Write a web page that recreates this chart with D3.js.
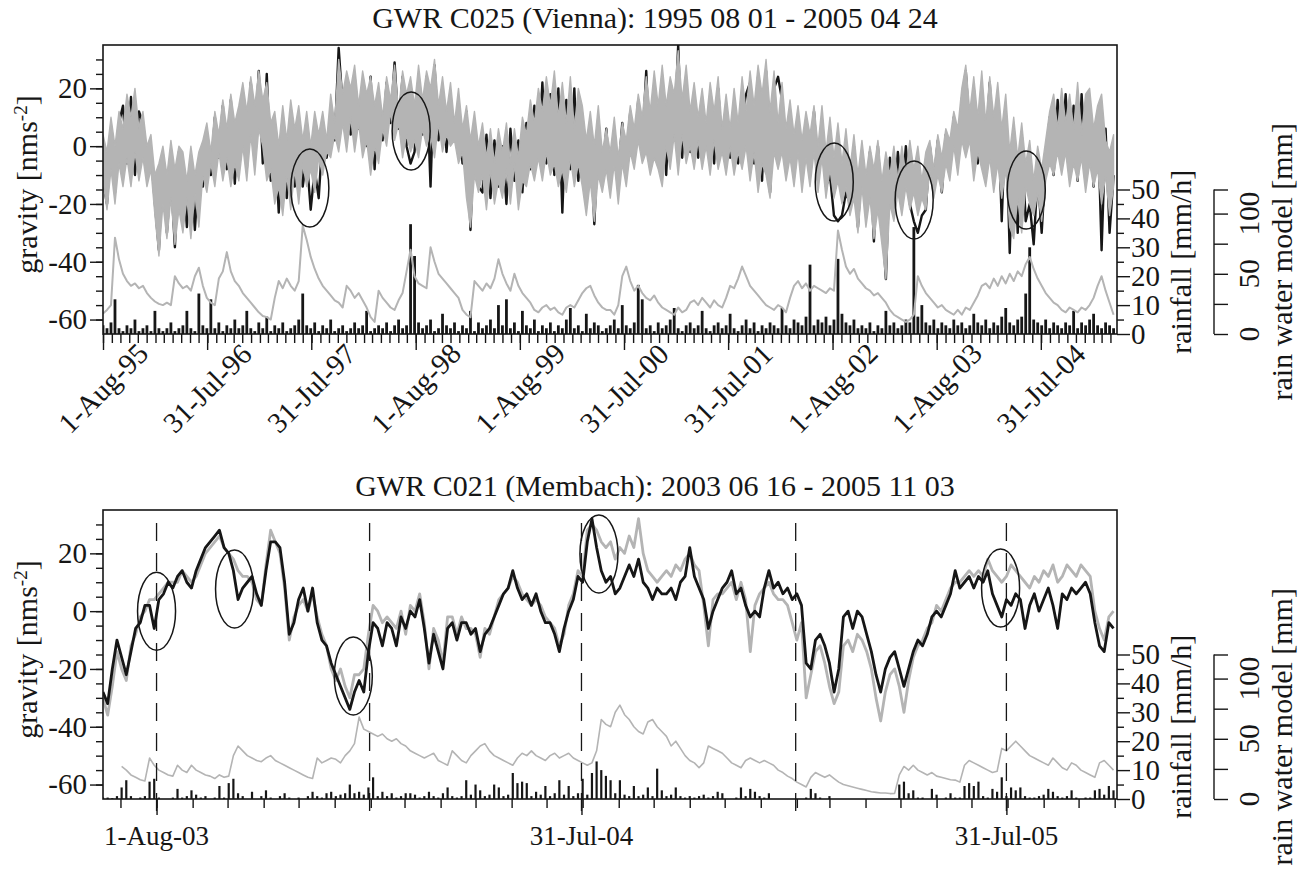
<!DOCTYPE html>
<html>
<head>
<meta charset="utf-8">
<script src="https://cdn.jsdelivr.net/npm/d3@7"></script>
<style>
  body { margin: 0; background: #fff; }
  svg text { font-family: "Liberation Serif", "Times New Roman", serif; fill: #161616; }
</style>
</head>
<body>
<svg id="chart" width="1309" height="869"></svg>
<script>
// ---------- GWR C025 (Vienna), one bin every 14 days ----------
const viennaTitle = "GWR C025 (Vienna): 1995 08 01 - 2005 04 24";
const viennaStart = "1995-08-01", viennaEnd = "2005-04-24", viennaStep = 14;

// modelled gravity [nms-2] (grey): upper and lower edge of each 14-day bin
const viennaModelHigh = [
  4, -2, 10, 0, 12, 6, 18, 10, 20, 6, 12, 0, 4, -10, -6, 0, -10, 2, -8, 0,
  -2, -12, 0, -10, -2, 2, 8, -2, 12, 4, 16, 6, 18, 8, 14, 22, 12, 24, 14, 26,
  16, 22, 8, 12, 0, 14, 2, 16, 6, 14, 2, 12, 0, 12, 4, 12, 2, 18, 8, 30,
  18, 26, 20, 28, 14, 26, 18, 24, 14, 22, 10, 24, 16, 28, 12, 26, 18, 24, 14, 28,
  16, 26, 20, 30, 14, 24, 12, 22, 8, 20, 6, 14, 2, 12, 0, 8, -4, 6, -6, 6,
  -2, 8, -6, 6, -4, 10, 4, 16, 8, 20, 12, 24, 14, 26, 10, 22, 8, 24, 6, 20,
  14, 2, 12, 0, 14, -2, 6, -2, 10, -4, 8, 2, 14, 6, 18, 10, 24, 12, 26, 14,
  28, 14, 24, 18, 33, 16, 28, 12, 22, 10, 20, 8, 22, 12, 24, 6, 18, 6, 20, 8,
  24, 12, 26, 14, 28, 18, 30, 12, 26, 8, 22, 6, 16, 4, 14, 2, 12, 4, 14, 0,
  14, -2, 10, -4, 8, -6, 6, -8, 4, -10, 2, -10, 0, -8, 2, -12, -2, -10, 0, -12,
  0, -10, 2, -8, 0, -12, -2, 2, -8, 4, -4, 6, 2, 12, 6, 20, 28, 12, 24, 10,
  26, 8, 24, 10, 22, 6, 18, -2, 10, -4, 8, -6, 2, -12, 0, -8, 2, 12, 18, 6,
  20, 8, 18, 6, 22, 4, 18, 20, 6, 14, 18, 2, -2, 4
];
const viennaModelLow = [
  -12, -22, -8, -20, -6, -14, -4, -14, -2, -12, -4, -14, -8, -24, -38, -20, -32, -18, -34, -22,
  -30, -18, -32, -16, -28, -10, -16, -6, -14, -2, -12, -4, -14, -6, -12, 0, -12, 4, -10, 6,
  0, -12, -8, -20, -14, -24, -10, -22, -8, -20, -6, -14, -8, -16, -4, -10, -2, -4, 4, -2,
  8, -2, 10, -2, 8, -4, 2, -10, 0, -6, 6, 0, 12, 2, 8, -4, 4, -2, 2, -4,
  6, 0, 4, -4, 8, -2, 4, 0, 2, -6, -2, -18, -28, -10, -16, -10, -22, -8, -20, -12,
  -18, -8, -20, -6, -22, -12, -14, -6, -12, -4, -12, -2, -10, -6, -14, -8, -16, -4, -14, -6,
  -14, -24, -12, -26, -10, -16, -8, -18, -6, -20, -6, -14, -2, -8, 2, -6, -2, -10, -4, -8,
  -14, 0, -8, 4, -10, 4, -6, 0, -8, 2, -8, 0, -10, 2, -8, -2, -10, 0, -10, -2,
  -8, 0, -12, -2, -16, -6, -10, -18, -2, -8, -2, -12, -4, -14, -2, -16, -4, -14, -2, -16,
  -4, -18, -8, -18, -12, -20, -14, -24, -18, -30, -14, -28, -18, -32, -22, -34, -46, -20, -26, -16,
  -24, -14, -22, -16, -24, -18, -22, -8, -18, -10, -16, -6, -12, 0, -10, 2, -4, 2, -12, -2,
  -8, -14, -4, -16, -6, -18, -8, -28, -32, -18, -30, -14, -20, -24, -16, -26, -12, -6, -10, -2,
  -10, -2, -14, -6, -12, -4, -16, -6, -14, -8, -20, -10, -24, -14
];
// observed gravity [nms-2] (black), drawn beneath the grey band
const viennaObserved = [
  -12, -20, 4, -16, 8, 14, -6, 17, -10, 12, 8, -8, -2, -20, -36, -4, -30, -10, -35, -2,
  -6, -28, -4, -29, -8, -14, 4, -10, 10, -4, 14, -8, 16, -13, 12, 18, -8, 22, 0, 26,
  -6, 25, -12, 4, -23, 6, -18, 10, -14, 8, -14, -4, -22, -8, -18, 4, -4, 12, 2, 34,
  14, 22, 4, 24, 6, 20, 0, 24, -8, 18, 2, 22, 8, 29, 6, 24, 0, -6, -2, 22,
  4, 24, -14, 28, 2, 20, -2, 16, 4, 12, -6, 12, -29, 8, -14, -16, 4, -18, 2, -14,
  0, -20, 6, -12, 2, -16, 8, -8, 14, -4, 22, -6, 18, -10, 20, -23, 16, -8, 20, -12,
  8, -20, 6, -27, 4, -12, 6, -14, 4, -10, 8, -8, 12, -4, 16, 0, 26, -6, 18, -2,
  24, -10, 20, 2, 35, -4, 22, -2, 18, -4, 14, 0, 16, -6, 20, -2, 12, -4, 14, -6,
  10, 18, 22, -6, 24, -12, 26, -16, 20, 24, 16, -4, 12, -8, 10, -10, 8, -6, 12, -10,
  6, -14, -10, -24, -26, -24, -16, -20, 0, -28, -4, -22, -2, -33, 0, -24, -46, -4, -22, -2,
  -18, 0, -20, -26, -30, -24, -22, 0, -12, 2, -16, 4, -8, 10, -4, 16, 26, 4, 20, -6,
  18, -2, 22, -8, 16, -26, 12, -37, 6, -30, 4, -26, -20, -34, -10, -30, -6, 10, -10, 16,
  -4, 18, -6, 14, -12, 18, -8, 16, -14, 12, -36, 6, -30, -10
];
// rain water model [mm] (grey, lower curve)
const viennaRainModel = [
  17, 20, 24, 80, 62, 50, 44, 40, 42, 38, 40, 34, 30, 27, 25, 24, 26, 24, 48, 42,
  38, 40, 36, 48, 55, 40, 30, 26, 24, 46, 52, 68, 52, 44, 40, 34, 30, 26, 22, 18,
  15, 14, 12, 30, 44, 38, 46, 40, 36, 44, 90, 78, 64, 54, 46, 40, 36, 32, 28, 26,
  22, 40, 36, 30, 34, 28, 22, 14, 10, 36, 30, 26, 22, 20, 28, 34, 52, 70, 48, 42,
  40, 38, 72, 60, 50, 46, 42, 38, 34, 30, 20, 16, 14, 44, 40, 36, 42, 38, 46, 62,
  50, 42, 36, 50, 40, 34, 30, 26, 20, 18, 22, 24, 20, 22, 18, 16, 22, 24, 22, 28,
  34, 38, 40, 32, 26, 22, 20, 20, 16, 24, 48, 56, 44, 36, 40, 34, 30, 28, 32, 26,
  22, 20, 18, 16, 22, 18, 20, 26, 28, 24, 30, 26, 22, 28, 24, 22, 30, 40, 38, 46,
  56, 48, 40, 36, 32, 28, 24, 22, 20, 24, 22, 18, 30, 40, 44, 38, 42, 36, 40, 38,
  36, 34, 38, 36, 86, 70, 56, 50, 54, 46, 42, 38, 36, 32, 34, 30, 26, 20, 16, 14,
  12, 10, 12, 16, 48, 40, 34, 30, 26, 22, 24, 20, 18, 16, 20, 16, 22, 20, 26, 32,
  40, 42, 38, 46, 40, 48, 42, 50, 44, 52, 48, 58, 64, 54, 46, 40, 34, 30, 26, 24,
  20, 18, 22, 20, 18, 22, 20, 24, 30, 40, 48, 36, 26, 16
];
// rainfall [mm/h] (black spikes)
const viennaRainfall = [
  3, 2, 4, 12, 2, 1, 3, 2, 5, 1, 2, 3, 1, 8, 2, 1, 2, 4, 1, 2,
  3, 8, 2, 1, 14, 3, 2, 12, 2, 4, 1, 3, 2, 5, 2, 3, 8, 2, 1, 4,
  2, 6, 1, 3, 2, 4, 1, 2, 3, 5, 14, 3, 2, 4, 1, 3, 2, 5, 1, 2,
  3, 1, 2, 4, 2, 3, 8, 1, 2, 3, 2, 4, 1, 3, 5, 2, 3, 38, 27, 4,
  2, 3, 5, 1, 2, 7, 3, 2, 4, 1, 3, 2, 8, 1, 4, 2, 3, 5, 2, 10,
  3, 12, 2, 4, 1, 8, 3, 2, 5, 1, 3, 2, 4, 1, 3, 2, 5, 9, 2, 3,
  1, 7, 2, 4, 3, 1, 2, 3, 5, 2, 10, 3, 2, 4, 17, 12, 2, 3, 1, 4,
  2, 3, 5, 9, 2, 1, 3, 4, 2, 3, 8, 2, 1, 3, 4, 2, 3, 7, 2, 1,
  3, 5, 2, 4, 1, 3, 2, 4, 3, 2, 9, 3, 2, 5, 4, 3, 6, 24, 3, 5,
  4, 6, 3, 5, 26, 7, 4, 3, 5, 2, 3, 2, 4, 1, 3, 2, 8, 3, 4, 2,
  3, 5, 4, 37, 6, 10, 4, 3, 5, 2, 4, 3, 2, 5, 3, 4, 2, 3, 7, 4,
  3, 5, 2, 4, 3, 6, 9, 4, 3, 5, 6, 14, 30, 5, 4, 3, 5, 2, 4, 3,
  2, 4, 3, 8, 2, 4, 3, 5, 7, 3, 2, 4, 3, 2
];
const viennaTicks = ["1-Aug-95", "31-Jul-96", "31-Jul-97", "1-Aug-98", "1-Aug-99",
  "31-Jul-00", "31-Jul-01", "1-Aug-02", "1-Aug-03", "31-Jul-04"];
const viennaCircleDates = ["1997-07-26", "1998-07-16", "2002-08-07", "2003-05-14", "2004-06-10"];
const viennaCircleGravity = [-14.5, 5.2, -12.4, -18.6, -15.2];

// ---------- GWR C021 (Membach), one value every 4 days ----------
const membachTitle = "GWR C021 (Membach): 2003 06 16 - 2005 11 03";
const membachStart = "2003-06-16", membachEnd = "2005-11-03", membachStep = 4;

const membachModel = [
  -30, -36, -26, -14, -20, -24, -12, -8, -2, 0, 4, 4, 6, 8, 10, 10, 10, 14, 12, 10,
  12, 16, 20, 22, 24, 26, 22, 20, 18, 14, 12, 12, 10, 4, 2, 16, 28, 24, 20, 8,
  -10, -2, 2, 4, 0, 6, -2, -8, -12, -20, -24, -20, -26, -30, -22, -22, -20, -8, 2, 0,
  -4, -2, -4, -6, 0, -8, 2, 0, 6, -4, -20, -6, -10, -18, -2, -2, -8, -2, -6, -6,
  -8, -16, -6, -8, -2, 4, 6, 8, 12, 10, 6, 4, 2, 4, 2, -2, -4, -6, -12, -8,
  2, 6, 14, 12, 28, 30, 28, 24, 22, 24, 18, 22, 20, 26, 22, 32, 20, 14, 12, 10,
  12, 14, 12, 16, 14, 18, 20, 16, 14, 2, -12, 4, 6, 6, 8, 10, 4, 10, 4, -14,
  2, 6, 8, 10, 6, 4, 4, 2, -4, -10, -4, -30, -22, -14, -12, -18, -26, -32, -28, -12,
  -10, -14, -8, -10, -14, -20, -30, -38, -28, -22, -20, -26, -35, -24, -16, -12, -10, -6, -4, 2,
  0, 4, 8, 10, 10, 12, 14, 12, 14, 12, 18, 14, 12, 10, 12, 16, 14, 12, 10, 8,
  12, 10, 14, 12, 16, 10, 12, 16, 14, 12, 16, 14, 12, 0, -6, -10, -2, 0
];
const membachObserved = [
  -28, -32, -20, -10, -16, -22, -14, -6, -4, 2, 2, -6, 4, 6, 10, 8, 12, 14, 10, 8,
  14, 18, 22, 24, 26, 28, 22, 20, 14, 4, 8, 10, 12, 6, 2, 14, 24, 24, 22, 10,
  -8, -4, 4, 8, 0, 8, -4, -10, -12, -18, -22, -26, -30, -34, -28, -24, -28, -14, -4, -6,
  -12, -4, -6, -12, -2, -6, 0, -2, 4, -6, -18, -8, -14, -20, -6, -4, -10, -4, -4, -8,
  -6, -14, -8, -6, -2, 2, 6, 8, 14, 8, 4, 6, 2, 6, 0, -4, -4, -8, -14, -6,
  0, 4, 12, 10, 24, 32, 22, 14, 10, 12, 6, 8, 12, 16, 12, 18, 10, 8, 4, 8,
  6, 6, 8, 4, 10, 12, 22, 12, 8, 4, -6, 0, 4, 8, 10, 14, 6, 8, 2, -2,
  0, -2, 8, 14, 8, 10, 6, 8, 4, 6, 2, -18, -20, -10, -8, -12, -18, -28, -20, -2,
  0, -6, 0, -2, -8, -14, -22, -28, -20, -16, -14, -20, -26, -20, -14, -10, -12, -8, -2, 0,
  -2, 2, 6, 14, 8, 10, 12, 8, 12, 10, 14, 6, 2, -2, 4, 2, 6, 4, -6, 2,
  6, 0, 4, 8, 2, -6, 6, 4, 8, 6, 8, 10, 6, -4, -12, -14, -4, -6
];
const membachRainModel = [
  null, null, null, null, 27, 24, 20, 18, 16, 15, 34, 28, 24, 22, 20, 19, 28, 24, 22, 28,
  24, 22, 20, 19, 17, 20, 18, 19, 36, 44, 40, 36, 34, 32, 31, 34, 36, 32, 30, 28,
  26, 24, 22, 20, 18, 17, 34, 30, 32, 34, 33, 30, 36, 40, 46, 68, 58, 56, 54, 52,
  54, 50, 48, 50, 46, 44, 40, 38, 36, 34, 36, 38, 32, 30, 28, 40, 36, 32, 30, 36,
  40, 44, 46, 40, 36, 34, 32, 30, 28, 34, 38, 36, 40, 36, 34, 32, 36, 38, 34, 36,
  38, 34, 32, 30, 28, 30, 40, 66, 62, 60, 72, 78, 70, 66, 60, 56, 54, 64, 66, 60,
  56, 52, 44, 48, 42, 36, 32, 30, 26, 30, 44, 42, 40, 38, 34, 30, 28, 26, 32, 34,
  32, 30, 32, 30, 28, 24, 22, 19, 17, 14, 12, 10, 18, 22, 20, 18, 20, 17, 14, 12,
  11, 10, 9, 8, 7, 6, 5.5, 5, 5, 4.5, 4.7, 20, 27, 24, 28, 24, 22, 20, 22, 19,
  18, 17, 16, 15.7, 14, 28, 32, 30, 28, 26, 24, 22, 23, 42, 40, 44, 48, 44, 40, 36,
  34, 32, 30, 28, 34, 30, 26, 24, 30, 28, 24, 22, 20, 18, 30, 32, 28, 24
];
const membachRainfall = [
  0.5, 0.5, 0.3, 1, 4, 6.5, 1, 0, 0.5, 1, 6, 7, 0.5, 0, 0, 0.5, 3.5, 0.5, 1, 3,
  1.5, 0.5, 1, 0, 0.5, 4.5, 0.5, 5.5, 7, 2, 1, 0, 2.5, 0, 1, 3, 0.5, 0, 1, 2,
  0.5, 0, 0.5, 0, 1, 2.5, 1, 0.5, 2, 2.5, 1, 1.5, 2, 5, 2, 2.5, 1.5, 4, 7.5, 1,
  2.5, 1, 2, 0.5, 1, 2, 2, 1.5, 0.5, 1, 2.5, 1, 0.5, 2, 4, 1, 0.5, 1, 6.5, 1.5,
  5, 3, 1, 1.5, 5, 4, 1, 1.5, 9, 5.5, 6, 5.5, 1, 2.5, 1.5, 4.5, 1, 2, 6.5, 1.5,
  4.5, 1, 2, 7, 1.5, 9, 13, 10, 8, 6.5, 2, 6.5, 1.5, 1, 4.5, 1, 1.5, 4, 1, 10.5,
  3, 1, 1.5, 4, 1, 0.5, 1, 0.5, 1, 1.5, 0.5, 1, 2.5, 2, 0, 0, 0.5, 4, 1, 3.5,
  2.5, 1, 0.5, 2, 0, 0, 0, 0, 0, 0, 0, 0.5, 3.5, 2, 0.5, 0, 1, 0, 0, 0,
  0, 0, 0, 0, 0, 0, 0, 0, 0, 0, 0, 5, 6, 2, 3, 0.5, 0.5, 0, 3.5, 1.5,
  0, 0.5, 2, 0.5, 0.5, 4.5, 5.5, 4.5, 6, 1, 0.5, 3.5, 2.5, 7.5, 1, 4, 3, 4, 1, 0.5,
  0.5, 1, 1.5, 3.5, 2.5, 1, 0.5, 1, 3, 0.5, 0, 0.5, 0.5, 3, 3.5, 1.5, 4.5, 3
];
const membachTicks = ["1-Aug-03", "31-Jul-04", "31-Jul-05"];
const membachDashDates = ["2003-08-01", "2004-01-31", "2004-07-31", "2005-01-31", "2005-07-31"];
const membachCircleDates = ["2003-08-01", "2003-10-07", "2004-01-17", "2004-08-15", "2005-07-26"];
const membachCircleGravity = [0, 7.7, -22.4, 19.8, 8];

// ---------- shared axes ----------
const gravityLabels = [-60, -40, -20, 0, 20];
const gravityMinor = d3.range(-60, 31, 5);
const rainfallLabels = [0, 10, 20, 30, 40, 50];
const rainfallMinor = [5, 15, 25, 35, 45];
const rainModelTicks = [0, 25, 50, 75, 100, 120];
const rainModelLabels = [0, 50, 100];

const GREY = "#b4b4b4", INK = "#161616";
const X0 = 103, X1 = 1117;
const TICK_FONT = 29, TITLE_FONT = 30;
const svg = d3.select("#chart");
const iso = d3.timeParse("%Y-%m-%d");
const tickParse = d3.timeParse("%d-%b-%y");

function drawPanel(p) {
  const t0 = iso(p.start), t1 = iso(p.end);
  const x = d3.scaleTime().domain([t0, t1]).range([X0, X1]);
  const yG = d3.scaleLinear().domain([-65, 35]).range([p.bottom, p.top]);
  const yR = d3.scaleLinear().domain([0, 100]).range([p.bottom, p.top]);
  const yW = d3.scaleLinear().domain([0, 240]).range([p.bottom, p.top]);
  const when = i => d3.timeDay.offset(t0, i * p.step);

  const g = svg.append("g");
  const clipId = "clip" + p.id;
  g.append("clipPath").attr("id", clipId).append("rect")
    .attr("x", X0).attr("y", p.top).attr("width", X1 - X0).attr("height", p.bottom - p.top);
  const plot = g.append("g").attr("clip-path", `url(#${clipId})`);

  // rainfall spikes
  plot.append("g").selectAll("line").data(p.rainfall).join("line")
    .attr("x1", (d, i) => x(when(i))).attr("x2", (d, i) => x(when(i)))
    .attr("y1", yR(0)).attr("y2", d => yR(d))
    .attr("stroke", INK).attr("stroke-width", p.spikeWidth);

  // rain water model
  plot.append("path").datum(p.rainModel)
    .attr("fill", "none").attr("stroke", GREY).attr("stroke-width", p.rainWidth)
    .attr("stroke-linejoin", "round")
    .attr("d", d3.line().defined(d => d != null).x((d, i) => x(when(i))).y(d => yW(d)));

  const gLine = d3.line().x((d, i) => x(when(i))).y(d => yG(d));
  const obs = plot.append("path").datum(p.observed)
    .attr("fill", "none").attr("stroke", INK).attr("stroke-width", p.lineWidth)
    .attr("stroke-linejoin", "round").attr("d", gLine);

  if (p.modelHigh) {
    // dense hourly model shown as its band per bin
    plot.append("path").datum(p.modelHigh)
      .attr("fill", GREY).attr("stroke", GREY).attr("stroke-width", 1.4).attr("stroke-linejoin", "round")
      .attr("d", d3.area().x((d, i) => x(when(i))).y0((d, i) => yG(p.modelLow[i])).y1(d => yG(d)));
  } else {
    plot.append("path").datum(p.model)
      .attr("fill", "none").attr("stroke", GREY).attr("stroke-width", p.lineWidth)
      .attr("stroke-linejoin", "round").attr("d", gLine);
    obs.raise();
  }

  // dashed markers (Membach only)
  g.append("g").selectAll("line").data(p.dashes || []).join("line")
    .attr("x1", d => x(iso(d))).attr("x2", d => x(iso(d)))
    .attr("y1", p.top + 13).attr("y2", p.bottom + 16)
    .attr("stroke", INK).attr("stroke-width", 1.3).attr("stroke-dasharray", "18,12");

  // circled features
  g.append("g").selectAll("ellipse").data(p.circleDates).join("ellipse")
    .attr("cx", d => x(iso(d))).attr("cy", (d, i) => yG(p.circleGravity[i]))
    .attr("rx", 19).attr("ry", 39)
    .attr("fill", "none").attr("stroke", INK).attr("stroke-width", 1.5);

  // frame
  g.append("rect").attr("x", X0).attr("y", p.top).attr("width", X1 - X0).attr("height", p.bottom - p.top)
    .attr("fill", "none").attr("stroke", INK).attr("stroke-width", 1.6);

  const style = sel => sel.attr("font-size", TICK_FONT).call(s => s.select(".domain").remove())
    .call(s => s.selectAll("line").attr("stroke", INK).attr("stroke-width", 1.4));

  // gravity axis
  g.append("g").attr("transform", `translate(${X0},0)`)
    .call(d3.axisLeft(yG).tickValues(gravityMinor).tickSize(7).tickFormat("")).call(style);
  g.append("g").attr("transform", `translate(${X0},0)`)
    .call(d3.axisLeft(yG).tickValues(gravityLabels).tickSize(13).tickPadding(3).tickFormat(d => String(d)))
    .call(style);

  // rainfall axis
  g.append("g").attr("transform", `translate(${X1},0)`)
    .call(d3.axisRight(yR).tickValues(rainfallMinor).tickSize(7).tickFormat("")).call(style);
  g.append("g").attr("transform", `translate(${X1},0)`)
    .call(d3.axisRight(yR).tickValues(rainfallLabels).tickSize(13).tickPadding(1).tickFormat(d => String(d)))
    .call(style);

  // rain water model axis
  const wx = 1214;
  const wAxis = g.append("g").attr("transform", `translate(${wx},0)`)
    .call(d3.axisRight(yW).tickValues(rainModelTicks).tickSize(14).tickFormat("")).call(style);
  wAxis.append("line").attr("x1", 0).attr("x2", 0).attr("y1", yW(0)).attr("y2", yW(120))
    .attr("stroke", INK).attr("stroke-width", 1.4);
  g.append("g").selectAll("text").data(rainModelLabels).join("text")
    .attr("transform", d => `translate(1249,${yW(d)}) rotate(-90)`)
    .attr("text-anchor", "middle").attr("dy", "0.35em").attr("font-size", TICK_FONT)
    .text(d => d);

  // time axis
  const months = d3.timeMonth.range(d3.timeMonth.ceil(t0), t1);
  g.append("g").attr("transform", `translate(0,${p.bottom})`)
    .call(d3.axisBottom(x).tickValues(months).tickSize(9).tickFormat("")).call(style);
  const majors = p.ticks.map(tickParse);
  g.append("g").attr("transform", `translate(0,${p.bottom})`)
    .call(d3.axisBottom(x).tickValues(majors).tickSize(16).tickFormat("")).call(style);
  const labels = g.append("g").selectAll("text").data(p.ticks).join("text")
    .attr("font-size", TICK_FONT).attr("text-anchor", "middle").text(d => d);
  if (p.rotateTicks) {
    labels.attr("transform", d => `translate(${x(tickParse(d))},${p.bottom + 54}) rotate(-45)`)
      .attr("dy", "0.35em");
  } else {
    labels.attr("font-size", 27).attr("x", d => x(tickParse(d))).attr("y", p.bottom + 46);
  }

  // titles
  g.append("text").attr("x", 655).attr("y", p.top - p.titleGap).attr("text-anchor", "middle")
    .attr("font-size", TITLE_FONT).text(p.title);
  const gl = g.append("text").attr("font-size", TITLE_FONT).attr("text-anchor", "middle")
    .attr("transform", `translate(26,${(p.top + p.bottom) / 2 - 5}) rotate(-90)`).attr("dy", "0.35em");
  gl.append("tspan").text("gravity [nms");
  gl.append("tspan").attr("baseline-shift", "super").attr("font-size", 19).text("-2");
  gl.append("tspan").text("]");
  g.append("text").attr("font-size", TITLE_FONT).attr("text-anchor", "middle")
    .attr("transform", `translate(1180,${yR(25)}) rotate(-90)`).attr("dy", "0.35em")
    .text("rainfall [mm/h]");
  g.append("text").attr("font-size", TITLE_FONT).attr("text-anchor", "middle")
    .attr("transform", `translate(1281,${yR(25)}) rotate(-90)`).attr("dy", "0.35em")
    .text("rain water model [mm]");
}

drawPanel({
  id: "v", top: 45, bottom: 334, title: viennaTitle, titleGap: 17,
  start: viennaStart, end: viennaEnd, step: viennaStep,
  modelHigh: viennaModelHigh, modelLow: viennaModelLow, observed: viennaObserved,
  rainModel: viennaRainModel, rainfall: viennaRainfall,
  ticks: viennaTicks, rotateTicks: true,
  circleDates: viennaCircleDates, circleGravity: viennaCircleGravity,
  spikeWidth: 2.8, rainWidth: 2, lineWidth: 2.4
});
drawPanel({
  id: "m", top: 510, bottom: 799, title: membachTitle, titleGap: 14,
  start: membachStart, end: membachEnd, step: membachStep,
  model: membachModel, observed: membachObserved, rainModel: membachRainModel, rainfall: membachRainfall,
  ticks: membachTicks, rotateTicks: false, dashes: membachDashDates,
  circleDates: membachCircleDates, circleGravity: membachCircleGravity,
  spikeWidth: 2.2, rainWidth: 1.6, lineWidth: 2.8
});
</script>
</body>
</html>
